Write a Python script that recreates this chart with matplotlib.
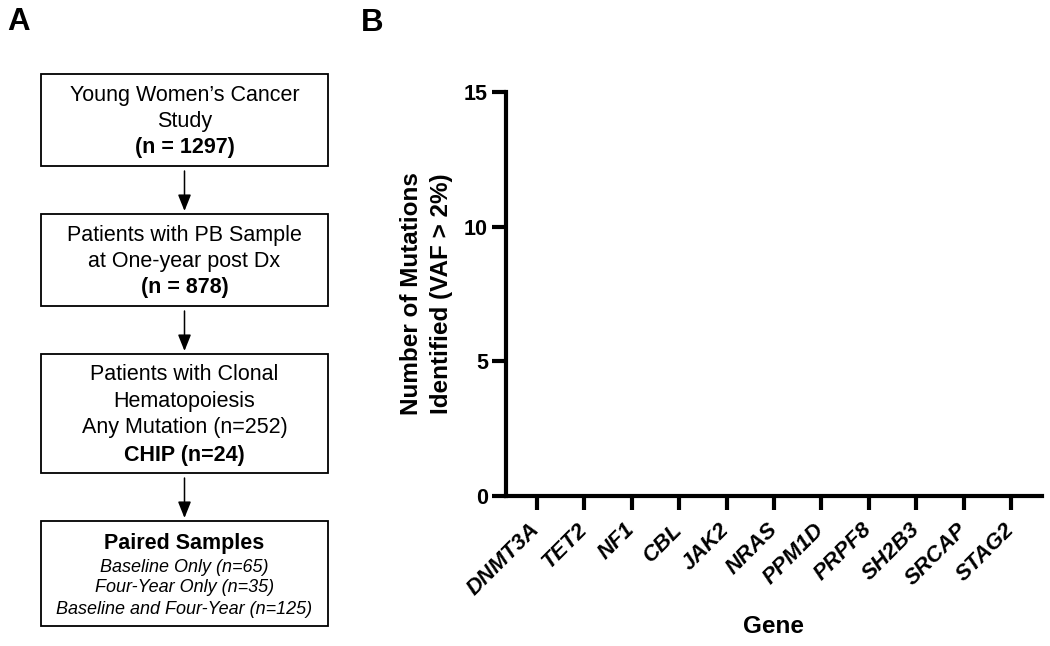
import matplotlib
matplotlib.use("Agg")
import matplotlib.pyplot as plt
from matplotlib.patches import Rectangle, FancyArrowPatch

plt.rcParams['font.family'] = ['Liberation Sans', 'DejaVu Sans']

# ---- data ----
genes = ["DNMT3A", "TET2", "NF1", "CBL", "JAK2", "NRAS", "PPM1D",
         "PRPF8", "SH2B3", "SRCAP", "STAG2"]
mutation_counts = [0, 0, 0, 0, 0, 0, 0, 0, 0, 0, 0]
y_ticks = [0, 5, 10, 15]

box1_lines = ["Young Women\u2019s Cancer", "Study", "(n = 1297)"]
box2_lines = ["Patients with PB Sample", "at One-year post Dx", "(n = 878)"]
box3_lines = ["Patients with Clonal", "Hematopoiesis", "Any Mutation (n=252)", "CHIP (n=24)"]
box4_lines = ["Paired Samples", "Baseline Only (n=65)", "Four-Year Only (n=35)",
              "Baseline and Four-Year (n=125)"]

W, H = 1050, 646
fig = plt.figure(figsize=(W / 100, H / 100), dpi=100)

# ---- Panel A: flowchart (pixel coordinates) ----
axA = fig.add_axes([0, 0, 1, 1])
axA.set_xlim(0, W)
axA.set_ylim(H, 0)
axA.axis('off')

bx0, bx1 = 41, 328
cx = (bx0 + bx1) / 2
boxes = [(74, 166), (214, 306), (354, 473), (521, 626)]
for (t, b) in boxes:
    axA.add_patch(Rectangle((bx0, t), bx1 - bx0, b - t, fill=False,
                            edgecolor='black', linewidth=1.3))

def lines(ys, txts, styles):
    for y, s, st in zip(ys, txts, styles):
        axA.text(cx, y, s, ha='center', va='center', **st)

reg = dict(fontsize=15.5)
bold = dict(fontsize=15.5, fontweight='bold')
ital = dict(fontsize=13, fontstyle='italic')
lines([95, 122, 148], box1_lines, [reg, reg, bold])
lines([235, 262, 288], box2_lines, [reg, reg, bold])
lines([375, 402, 428, 455], box3_lines, [reg, reg, reg, bold])
lines([543, 567, 588, 609], box4_lines, [bold, ital, ital, ital])

for (t0, b0), (t1, b1) in zip(boxes[:-1], boxes[1:]):
    axA.add_patch(FancyArrowPatch((cx, b0 + 5), (cx, t1 - 3),
                                  arrowstyle='-|>,head_length=0.55,head_width=0.22',
                                  mutation_scale=18, color='black', linewidth=1.1,
                                  shrinkA=0, shrinkB=0))

fig.text(7 / W, 1 - 22 / H, "A", fontsize=22.5, fontweight='bold', ha='left', va='center')
fig.text(361 / W, 1 - 23 / H, "B", fontsize=22.5, fontweight='bold', ha='left', va='center')

# ---- Panel B: bar chart ----
left, right, top, bottom = 506, 1042, 92, 496
axB = fig.add_axes([left / W, 1 - bottom / H, (right - left) / W, (bottom - top) / H])
x = list(range(len(genes)))
axB.bar(x, mutation_counts, width=0.6, color='black')
axB.set_xlim(-0.65, len(genes) - 1 + 0.65)
axB.set_ylim(0, 15)
axB.set_yticks(y_ticks)
axB.set_yticklabels([str(v) for v in y_ticks], fontsize=15.5, fontweight='bold')
axB.set_xticks(x)
axB.set_xticklabels(genes, fontsize=16, fontweight='bold', fontstyle='italic',
                    rotation=45, ha='right', va='center', rotation_mode='anchor')
for s in ['top', 'right']:
    axB.spines[s].set_visible(False)
for s in ['left', 'bottom']:
    axB.spines[s].set_linewidth(3)
    axB.spines[s].set_capstyle('projecting')
axB.tick_params(axis='both', width=3, length=10, direction='out')
axB.tick_params(axis='y', pad=3)
axB.tick_params(axis='x', pad=12)
axB.set_ylabel("Number of Mutations\nIdentified (VAF > 2%)", fontsize=17.5,
               fontweight='bold', labelpad=8, linespacing=1.4)
axB.set_xlabel("Gene", fontsize=17.5, fontweight='bold', labelpad=11)

fig.savefig("out.png", dpi=100)
